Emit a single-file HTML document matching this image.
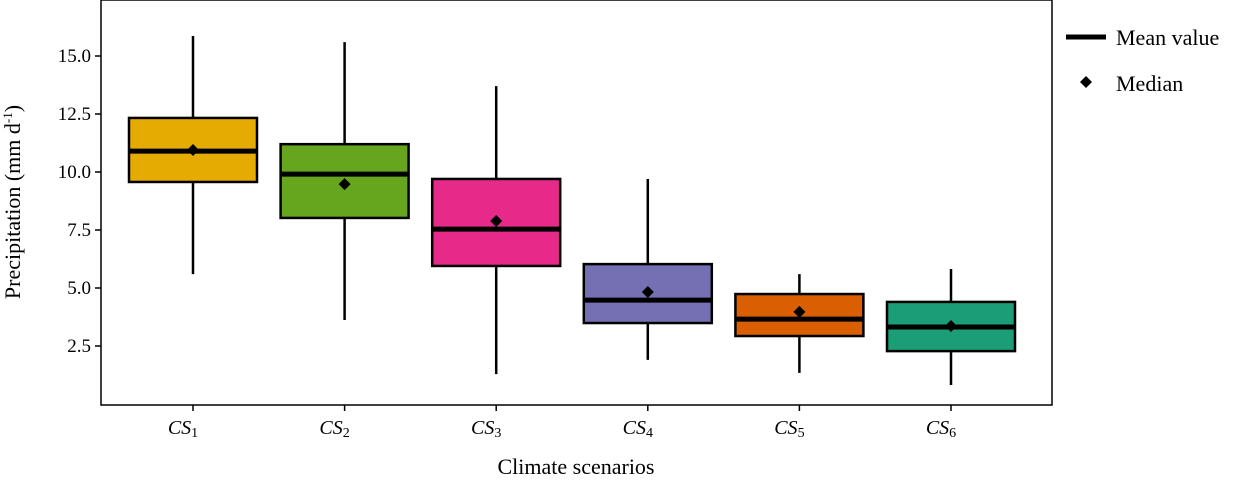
<!DOCTYPE html>
<html><head><meta charset="utf-8"><style>
body{margin:0;background:#fff;}
svg{display:block;font-family:"Liberation Serif",serif;}
</style></head><body>
<svg id="chart" width="1239" height="480">
<rect x="101" y="0" width="951" height="405" fill="none" stroke="#000" stroke-width="1.5"/>
<g id="marks"></g>
<g id="axes"></g>
<text x="20" y="202" font-size="22" text-anchor="middle" transform="rotate(-90 20 202)">Precipitation (mm d<tspan font-size="13" dy="-8">-1</tspan><tspan dy="8">)</tspan></text>
<text x="576" y="474" font-size="22" text-anchor="middle">Climate scenarios</text>
<g>
<line x1="1066" y1="37" x2="1106" y2="37" stroke="#000" stroke-width="5"/>
<text x="1116" y="45" font-size="22">Mean value</text>
<path d="M1086 76 L1092 82 L1086 88 L1080 82 Z" fill="#000"/>
<text x="1116" y="91" font-size="22">Median</text>
</g>
</svg>
<script>
const categories=["1","2","3","4","5","6"];
const whiskerHigh=[15.86,15.6,13.7,9.7,5.6,5.82];
const boxHigh=[12.33,11.2,9.7,6.03,4.74,4.4];
const meanVals=[10.9,9.91,7.54,4.48,3.66,3.32];
const boxLow=[9.57,8.02,5.95,3.49,2.93,2.28];
const whiskerLow=[5.6,3.62,1.29,1.9,1.34,0.82];
const medianVals=[10.95,9.48,7.89,4.83,3.97,3.36];
const colors=["#e6ab02","#66a61e","#e7298a","#7570b3","#d95f02","#1b9e77"];
const yTicks=[2.5,5.0,7.5,10.0,12.5,15.0];
const NS="http://www.w3.org/2000/svg";
function y(v){return 346-(v-2.5)*23.2;}
function x(i){return 193+i*151.6;}
const marks=document.getElementById('marks'),axes=document.getElementById('axes');
function mk(tag,attrs,parent){const e=document.createElementNS(NS,tag);for(const k in attrs)e.setAttribute(k,attrs[k]);parent.appendChild(e);return e;}
categories.forEach((c,i)=>{
 const cx=x(i),hw=64;
 const g=mk('g',{},marks);
 
 
 const w=mk('line',{x1:cx,x2:cx,y1:y(whiskerHigh[i]),y2:y(whiskerLow[i]),stroke:'#000','stroke-width':2.5},g);
 
 
 const r=mk('rect',{x:cx-hw,y:y(boxHigh[i]),width:2*hw,height:y(boxLow[i])-y(boxHigh[i]),fill:colors[i],stroke:'#000','stroke-width':2.5},g);
 
 
 const m=mk('line',{x1:cx-hw,x2:cx+hw,y1:y(meanVals[i]),y2:y(meanVals[i]),stroke:'#000','stroke-width':5},g);
 
 
 const my=y(medianVals[i]);
 const d=mk('path',{d:`M${cx} ${my-6} L${cx+6} ${my} L${cx} ${my+6} L${cx-6} ${my} Z`,fill:'#000'},g);
 
 
 const t=mk('line',{x1:cx,x2:cx,y1:405,y2:411,stroke:'#000','stroke-width':1.5},axes);
 
 
 const l=mk('text',{x:cx-10,y:434,'font-size':20,'font-style':'italic','text-anchor':'middle'},axes);
 
 
 l.innerHTML='CS<tspan font-style="normal" font-size="14" dy="3">'+c+'</tspan>';
});
yTicks.forEach(v=>{
 const t=mk('line',{x1:95,x2:101,y1:y(v),y2:y(v),stroke:'#000','stroke-width':1.5},axes);
 
 
 const l=mk('text',{x:91,y:y(v)+6,'font-size':19,'text-anchor':'end'},axes);
 
 
 l.textContent=v.toFixed(1);
});
</script>
</body></html>
